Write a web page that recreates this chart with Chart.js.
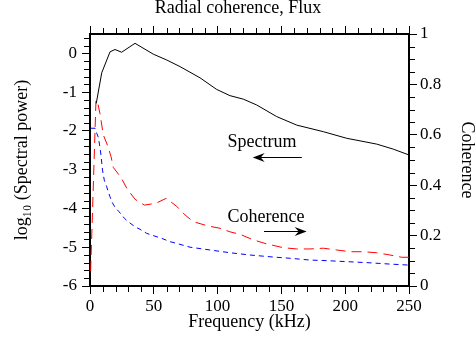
<!DOCTYPE html>
<html>
<head>
<meta charset="utf-8">
<script src="https://cdn.jsdelivr.net/npm/chart.js@4"></script>
<style>
  html, body { margin: 0; padding: 0; background: #fff; }
  #wrap { width: 476px; height: 338px; }
</style>
</head>
<body>
<div id="wrap"><canvas id="chart"></canvas></div>
<script>
// Spectrum (left axis, log10 power)
const specFreq  = [4.9, 9.2, 15.7, 19.6, 24.8, 35.3, 49.6, 60.1, 70.5, 86.2, 99.3, 109.7, 120.1, 130.6, 146.3, 162, 182.9, 201.2, 224.7, 237.7, 250];
const specPower = [-1.29, -0.50, 0.04, 0.10, 0.03, 0.26, -0.02, -0.17, -0.34, -0.63, -0.93, -1.09, -1.18, -1.33, -1.63, -1.85, -2.02, -2.19, -2.34, -2.47, -2.62];

// Coherence, red long dashes (right axis)
const cohRedFreq = [0.5, 4.7, 6.0, 7.8, 10.4, 13.9, 16.5, 18.3, 24.3, 28.8, 35.3, 42.6, 51.5, 59.8, 67.9, 74.5, 81, 92.7, 101.9, 109.7, 117.6, 128, 138.5, 151.5, 162, 172.4, 182.8, 193.3, 203.8, 214.2, 224.7, 235.1, 244.3, 250];
const cohRed     = [0.06, 0.738, 0.727, 0.685, 0.60, 0.556, 0.513, 0.47, 0.431, 0.388, 0.344, 0.321, 0.328, 0.348, 0.316, 0.282, 0.255, 0.238, 0.229, 0.215, 0.205, 0.183, 0.167, 0.152, 0.147, 0.147, 0.150, 0.143, 0.136, 0.136, 0.132, 0.123, 0.114, 0.114];

// Coherence, blue short dashes (right axis)
const cohBlueFreq = [0.5, 4, 5.3, 6.5, 7.5, 8.6, 9.8, 11.2, 13.1, 14.3, 15.7, 17, 19.6, 22.7, 26.9, 30, 35.3, 39.2, 44.4, 48.4, 56.2, 62.7, 67.9, 78.4, 94, 109.7, 125.4, 141.1, 156.7, 172.4, 188.1, 203.8, 219.4, 235.1, 250];
const cohBlue     = [0.626, 0.626, 0.606, 0.59, 0.56, 0.52, 0.46, 0.42, 0.394, 0.374, 0.354, 0.335, 0.312, 0.295, 0.269, 0.255, 0.235, 0.225, 0.209, 0.202, 0.189, 0.176, 0.169, 0.154, 0.143, 0.132, 0.123, 0.116, 0.11, 0.103, 0.10, 0.096, 0.092, 0.087, 0.083];

// major tick values
const freqTicks  = [0, 50, 100, 150, 200, 250];
const powerTicks = [-6, -5, -4, -3, -2, -1, 0];
const cohTicks   = [0, 0.2, 0.4, 0.6, 0.8, 1];

const SERIF = '"Liberation Serif", "Times New Roman", serif';

const pts = (xs, ys) => xs.map((x, i) => ({ x: x, y: ys[i] }));
const setTicks = vals => s => { s.ticks = vals.map(v => ({ value: v })); };

// minor tick marks, pointing outwards like the major ones
const minorTicks = {
    id: 'minorTicks',
    afterDraw(chart) {
        const ctx = chart.ctx;
        const a = chart.chartArea;
        ctx.save();
        ctx.strokeStyle = '#000';
        ctx.lineWidth = 1;
        const each = (scale, step, major, fn) => {
            const n0 = Math.ceil(scale.min / step - 1e-6), n1 = Math.floor(scale.max / step + 1e-6);
            for (let n = n0; n <= n1; n++) {
                const v = n * step;
                if (Math.abs(v / major - Math.round(v / major)) < 1e-6) continue;
                fn(Math.round(scale.getPixelForValue(v)) + 0.5);
            }
        };
        ctx.beginPath();
        each(chart.scales.x, 10, 50, p => { ctx.moveTo(p, a.bottom); ctx.lineTo(p, a.bottom + 6); });
        each(chart.scales.x2, 10, 50, p => { ctx.moveTo(p, a.top); ctx.lineTo(p, a.top - 6); });
        each(chart.scales.y, 0.2, 1, p => { ctx.moveTo(a.left, p); ctx.lineTo(a.left - 6, p); });
        each(chart.scales.y2, 0.05, 0.2, p => { ctx.moveTo(a.right, p); ctx.lineTo(a.right + 6, p); });
        ctx.stroke();
        ctx.restore();
    }
};

// "Spectrum <-" and "Coherence ->" labels
const notes = {
    id: 'notes',
    afterDraw(chart) {
        const { ctx, scales } = chart;
        const x = scales.x, yl = scales.y, yr = scales.y2;
        ctx.save();
        ctx.fillStyle = '#000';
        ctx.strokeStyle = '#000';
        ctx.font = '18px ' + SERIF;
        ctx.textAlign = 'center';
        ctx.textBaseline = 'alphabetic';
        ctx.fillText('Spectrum', x.getPixelForValue(134.8), yl.getPixelForValue(-2.42));
        ctx.fillText('Coherence', x.getPixelForValue(137.9), yr.getPixelForValue(0.253));

        const arrow = (x0, x1, y) => {
            y = Math.round(y) + 0.5;
            const dir = Math.sign(x1 - x0);
            ctx.lineWidth = 1;
            ctx.beginPath();
            ctx.moveTo(x0, y);
            ctx.lineTo(x1 - dir * 6, y);
            ctx.stroke();
            ctx.beginPath();
            ctx.moveTo(x1, y);
            ctx.lineTo(x1 - dir * 12, y - 4.5);
            ctx.lineTo(x1 - dir * 8, y);
            ctx.lineTo(x1 - dir * 12, y + 4.5);
            ctx.closePath();
            ctx.fill();
        };
        arrow(x.getPixelForValue(166), x.getPixelForValue(127.5), yl.getPixelForValue(-2.665));
        arrow(x.getPixelForValue(136.4), x.getPixelForValue(169.8), yr.getPixelForValue(0.218));
        ctx.restore();
    }
};

const tickFont = { family: SERIF, size: 17 };
const titleFont = { family: SERIF, size: 18 };
const axisGrid = { drawOnChartArea: false, drawTicks: true, tickLength: 8, tickColor: '#000', tickWidth: 1 };
const axisBorder = { display: true, color: '#000', width: 2 };
const plainNum = v => String(+Number(v).toFixed(2));

new Chart(document.getElementById('chart'), {
    type: 'scatter',
    data: {
        datasets: [
            {
                label: 'Spectrum',
                data: pts(specFreq, specPower),
                yAxisID: 'y',
                showLine: true,
                borderColor: '#000',
                borderWidth: 1,
                pointRadius: 0,
                tension: 0
            },
            {
                label: 'Coherence 1',
                data: pts(cohRedFreq, cohRed),
                yAxisID: 'y2',
                showLine: true,
                borderColor: '#ff0000',
                borderWidth: 1,
                borderDash: [10, 6],
                pointRadius: 0,
                tension: 0
            },
            {
                label: 'Coherence 2',
                data: pts(cohBlueFreq, cohBlue),
                yAxisID: 'y2',
                showLine: true,
                borderColor: '#0000ff',
                borderWidth: 1,
                borderDash: [5, 4],
                pointRadius: 0,
                tension: 0
            }
        ]
    },
    options: {
        responsive: true,
        maintainAspectRatio: false,
        animation: false,
        layout: { padding: 0 },
        plugins: {
            legend: { display: false },
            tooltip: { enabled: false },
            title: {
                display: true,
                text: 'Radial coherence, Flux',
                color: '#000',
                font: { family: SERIF, size: 18, weight: 'normal', lineHeight: 1 },
                padding: { top: -1, bottom: 0 }
            }
        },
        scales: {
            x: {
                type: 'linear',
                position: 'bottom',
                min: 0, max: 250,
                grid: axisGrid,
                border: axisBorder,
                afterBuildTicks: setTicks(freqTicks),
                ticks: { color: '#000', font: tickFont, padding: 2, maxRotation: 0, callback: plainNum },
                title: { display: true, text: 'Frequency (kHz)', color: '#000', font: titleFont, padding: { bottom: 5 } },
                afterFit: s => { s.height = 52; }
            },
            x2: {
                type: 'linear',
                position: 'top',
                min: 0, max: 250,
                grid: axisGrid,
                border: axisBorder,
                afterBuildTicks: setTicks(freqTicks),
                ticks: { display: true, callback: () => '' },
                afterFit: s => { s.height = 17; }
            },
            y: {
                type: 'linear',
                position: 'left',
                min: -6, max: 0.5,
                grid: axisGrid,
                border: axisBorder,
                afterBuildTicks: setTicks(powerTicks),
                ticks: { color: '#000', font: tickFont, padding: 5, callback: plainNum },
                title: { display: true, text: 'log\u2081\u2080 (Spectral power)', color: '#000', font: titleFont, padding: { top: 11 } },
                afterFit: s => { s.width = 90; }
            },
            y2: {
                type: 'linear',
                position: 'right',
                min: 0, max: 1,
                grid: axisGrid,
                border: axisBorder,
                afterBuildTicks: setTicks(cohTicks),
                ticks: { color: '#000', font: tickFont, padding: 3, callback: plainNum },
                title: { display: true, text: 'Coherence', color: '#000', font: titleFont, padding: { top: -2 } },
                afterFit: s => { s.width = 67; }
            }
        }
    },
    plugins: [minorTicks, notes]
});
</script>
</body>
</html>
